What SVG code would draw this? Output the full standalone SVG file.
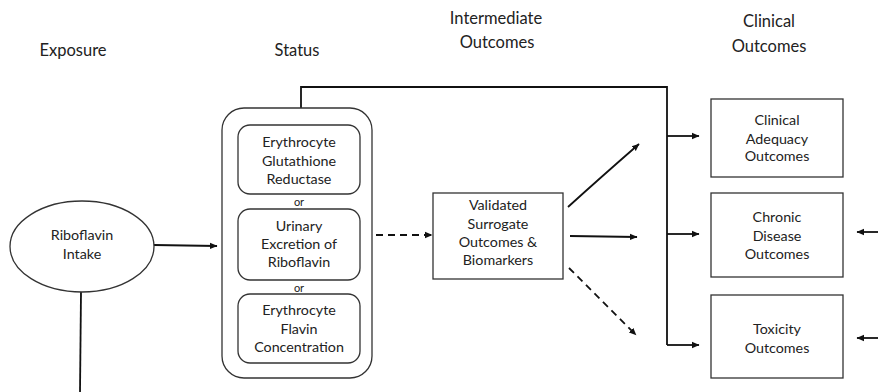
<svg xmlns="http://www.w3.org/2000/svg" width="878" height="392" viewBox="0 0 878 392">
<defs>
<marker id="ah" markerWidth="8" markerHeight="8" refX="7" refY="4" orient="auto" markerUnits="userSpaceOnUse">
<path d="M0,0.8 L7.5,4 L0,7.2 Z" fill="#111"/>
</marker>
</defs>
<style>
text{font-family:Lato,"Open Sans","Liberation Sans",sans-serif;fill:#222;text-anchor:middle}
.h{font-size:16.5px}
.t{font-size:14.3px}
.or{font-size:11px}
.box{fill:#fff;stroke:#333;stroke-width:1.3}
.c{fill:none;stroke:#111;stroke-width:1.8}
.d{fill:none;stroke:#111;stroke-width:1.8;stroke-dasharray:7,5}
</style>
<rect width="878" height="392" fill="#fff"/>
<g id="headers">
<text class="h" x="73" y="56">Exposure</text>
<text class="h" x="297" y="56">Status</text>
<text class="h" x="496" y="24">Intermediate</text>
<text class="h" x="497" y="48">Outcomes</text>
<text class="h" x="769" y="27">Clinical</text>
<text class="h" x="769" y="52">Outcomes</text>
</g>
<g id="connectors">
<path class="c" d="M154,245 L217,246" marker-end="url(#ah)"/>
<path class="c" d="M81,292 L80,392"/>
<path class="c" d="M301,108 L301,87 L667,87 L667,345"/>
<path class="c" d="M667,136 L699,136" marker-end="url(#ah)"/>
<path class="c" d="M667,234 L699,234" marker-end="url(#ah)"/>
<path class="c" d="M667,345 L699,345" marker-end="url(#ah)"/>
<path class="d" d="M376,235 L432,235" marker-end="url(#ah)"/>
<path class="c" d="M568,207 Q600,178 639,144" marker-end="url(#ah)"/>
<path class="c" d="M570,236 L637,237" marker-end="url(#ah)"/>
<path class="d" d="M569,268 L636,335" marker-end="url(#ah)"/>
<path class="c" d="M878,232 L857,232" marker-end="url(#ah)"/>
<path class="c" d="M878,338 L857,338" marker-end="url(#ah)"/>
</g>
<g id="intake">
<ellipse class="box" cx="82" cy="246.5" rx="72" ry="45.5"/>
<text class="t" x="82" y="240">Riboflavin</text>
<text class="t" x="82" y="259">Intake</text>
</g>
<g id="status">
<rect class="box" x="222" y="108" width="150" height="270" rx="22"/>
<text class="or" x="299" y="206">or</text>
<text class="or" x="299" y="292">or</text>
</g>
<g id="egr">
<rect class="box" x="238" y="125" width="122" height="69" rx="12"/>
<text class="t" x="299" y="147">Erythrocyte</text>
<text class="t" x="299" y="166">Glutathione</text>
<text class="t" x="299" y="184">Reductase</text>
</g>
<g id="urinary">
<rect class="box" x="238" y="209" width="122" height="71" rx="12"/>
<text class="t" x="299" y="231">Urinary</text>
<text class="t" x="299" y="249">Excretion of</text>
<text class="t" x="299" y="267">Riboflavin</text>
</g>
<g id="efc">
<rect class="box" x="238" y="294" width="122" height="69" rx="12"/>
<text class="t" x="299" y="315">Erythrocyte</text>
<text class="t" x="299" y="334">Flavin</text>
<text class="t" x="299" y="352">Concentration</text>
</g>
<g id="surrogate">
<rect class="box" x="433" y="193" width="130" height="86"/>
<text class="t" x="498" y="210">Validated</text>
<text class="t" x="498" y="229">Surrogate</text>
<text class="t" x="498" y="247">Outcomes &amp;</text>
<text class="t" x="498" y="265">Biomarkers</text>
</g>
<g id="adequacy">
<rect class="box" x="711" y="99" width="132" height="78"/>
<text class="t" x="777" y="125">Clinical</text>
<text class="t" x="777" y="144">Adequacy</text>
<text class="t" x="777" y="161">Outcomes</text>
</g>
<g id="chronic">
<rect class="box" x="711" y="193" width="132" height="84"/>
<text class="t" x="777" y="222">Chronic</text>
<text class="t" x="777" y="241">Disease</text>
<text class="t" x="777" y="259">Outcomes</text>
</g>
<g id="toxicity">
<rect class="box" x="711" y="295" width="132" height="83"/>
<text class="t" x="777" y="334">Toxicity</text>
<text class="t" x="777" y="353">Outcomes</text>
</g>
</svg>
